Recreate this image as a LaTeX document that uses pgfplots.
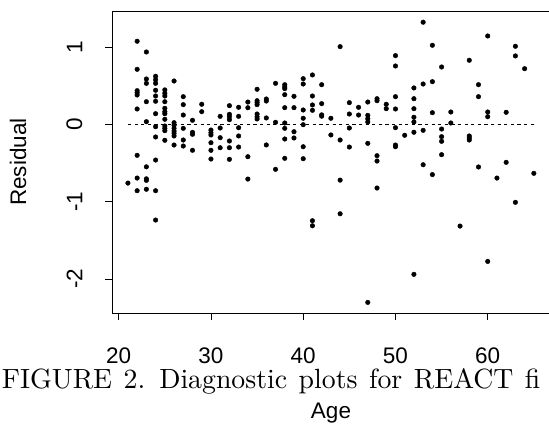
\documentclass[border=0pt]{standalone}
\usepackage{fontspec}
\usepackage{pgfplots}
\pgfplotsset{compat=1.18}
\newfontfamily\arial{Liberation Sans}
\newfontfamily\capfont{lmroman10-regular}[Extension=.otf]
\begin{document}
\begin{tikzpicture}
\begin{axis}[
  scale only axis, width=438bp, height=302bp,
  xmin=19.274, xmax=66.75, ymin=-2.440, ymax=1.465,
  axis line style={line width=0.9bp, black},
  xtick={20,30,40,50,60}, xticklabels={20,30,40,50,60},
  ytick={-2,-1,0,1}, yticklabels={-2,-1,0,1},
  tick align=outside, xtick pos=left, ytick pos=left,
  major tick length=6.5bp,
  tick style={line width=0.9bp, black},
  /pgf/number format/assume math mode=true,
  tick label style={font=\arial\fontsize{22.5bp}{25bp}\selectfont, inner sep=0pt},
  xticklabel style={anchor=north},
  yticklabel style={rotate=90, anchor=south},
  xticklabel shift=28bp, yticklabel shift=23bp,
  xlabel={Age}, ylabel={Residual},
  label style={font=\arial\fontsize{22.5bp}{26bp}\selectfont, inner sep=0pt},
  xlabel style={at={(axis description cs:0.5,-0.3477)}, anchor=base},
  ylabel style={at={(axis description cs:-0.2146,0.5)}, anchor=center},
  clip=false,
]
\addplot[black, line width=1bp, dash pattern=on 3.3bp off 3.3bp] coordinates {(21,0) (65,0)};
\addplot[only marks, mark=*, mark size=2.3bp, black] coordinates {
(21,-0.76)
(22,1.074) (22,0.711) (22,0.435) (22,0.409) (22,0.379) (22,0.198) (22,-0.401) (22,-0.695) (22,-0.859)
(23,0.935) (23,0.586) (23,0.530) (23,0.292) (23,0.034) (23,-0.550) (23,-0.705) (23,-0.725) (23,-0.840)
(24,0.621) (24,0.575) (24,0.530) (24,0.440) (24,0.366) (24,0.298) (24,0.137) (24,-0.031) (24,-0.164) (24,-0.462) (24,-0.859) (24,-1.238)
(25,0.445) (25,0.401) (25,0.366) (25,0.292) (25,0.207) (25,0.163) (25,0.137) (25,0.065) (25,-0.022) (25,-0.052) (25,-0.083) (25,-0.207)
(26,0.560) (26,0.021) (26,-0.013) (26,-0.052) (26,-0.087) (26,-0.116) (26,-0.151) (26,-0.268)
(27,0.357) (27,0.254) (27,0.120) (27,-0.052) (27,-0.203) (27,-0.281)
(28,0.052) (28,-0.104) (28,-0.129) (28,-0.336)
(29,0.259) (29,0.163)
(30,-0.074) (30,-0.108) (30,-0.138) (30,-0.238) (30,-0.336) (30,-0.449)
(31,0.103) (31,-0.048) (31,-0.173) (31,-0.303)
(32,0.241) (32,0.129) (32,0.098) (32,0.060) (32,-0.216) (32,-0.303) (32,-0.453)
(33,0.220) (33,0.103) (33,-0.044) (33,-0.151) (33,-0.294)
(34,0.288) (34,0.214) (34,-0.419) (34,-0.708)
(35,0.453) (35,0.305) (35,0.280) (35,0.254) (35,0.133) (35,0.098) (35,0.069)
(36,0.327) (36,0.301) (36,0.082) (36,-0.267)
(37,0.530) (37,0.026) (37,-0.582)
(38,0.512) (38,0.483) (38,0.461) (38,0.383) (38,0.215) (38,0.017) (38,-0.052) (38,-0.190) (38,-0.440)
(39,0.362) (39,0.215) (39,-0.096) (39,-0.177)
(40,0.590) (40,0.521) (40,0.185) (40,0.078) (40,-0.005) (40,-0.290) (40,-0.445)
(41,0.638) (41,0.366) (41,0.250) (41,0.181) (41,-1.247) (41,-1.312)
(42,0.512) (42,0.267) (42,0.122) (42,0.105)
(43,0.078) (43,-0.138)
(44,1.004) (44,-0.203) (44,-0.722) (44,-1.157)
(45,0.280) (45,0.133) (45,-0.048) (45,-0.294)
(46,0.220) (46,0.120)
(47,0.288) (47,0.116) (47,0.072) (47,0.030) (47,-0.246) (47,-2.303)
(48,0.331) (48,0.305) (48,-0.406) (48,-0.475) (48,-0.824)
(49,0.259) (49,0.202)
(50,0.888) (50,0.754) (50,0.357) (50,0.198) (50,-0.044) (50,-0.268) (50,-0.290)
(51,-0.142)
(52,0.470) (52,0.331) (52,0.202) (52,0.091) (52,0.030) (52,-0.103) (52,-1.940)
(53,1.320) (53,0.521) (53,-0.078) (53,-0.523)
(54,1.022) (54,0.551) (54,0.150) (54,-0.650)
(55,0.741) (55,-0.061) (55,-0.160) (55,-0.220) (55,-0.393)
(56,0.159) (56,0.017)
(57,-1.316)
(58,0.828) (58,-0.151) (58,-0.177) (58,-0.203)
(59,0.512) (59,0.357) (59,-0.552)
(60,1.142) (60,0.159) (60,0.098) (60,-1.773)
(61,-0.695)
(62,0.155) (62,-0.492)
(63,1.009) (63,0.884) (63,-1.009)
(64,0.719)
(65,-0.634)
};
\end{axis}
\node[anchor=base west, inner sep=0pt, font=\capfont\fontsize{27.8bp}{30bp}\selectfont] at (-110.3bp,-75.3bp) {\spaceskip=11.5bp\xspaceskip=14bp FIGURE 2. Diagnostic plots for REACT fi};
\pgfresetboundingbox
\useasboundingbox (-112bp,-111bp) rectangle (437bp,313bp);
\end{tikzpicture}
\end{document}
